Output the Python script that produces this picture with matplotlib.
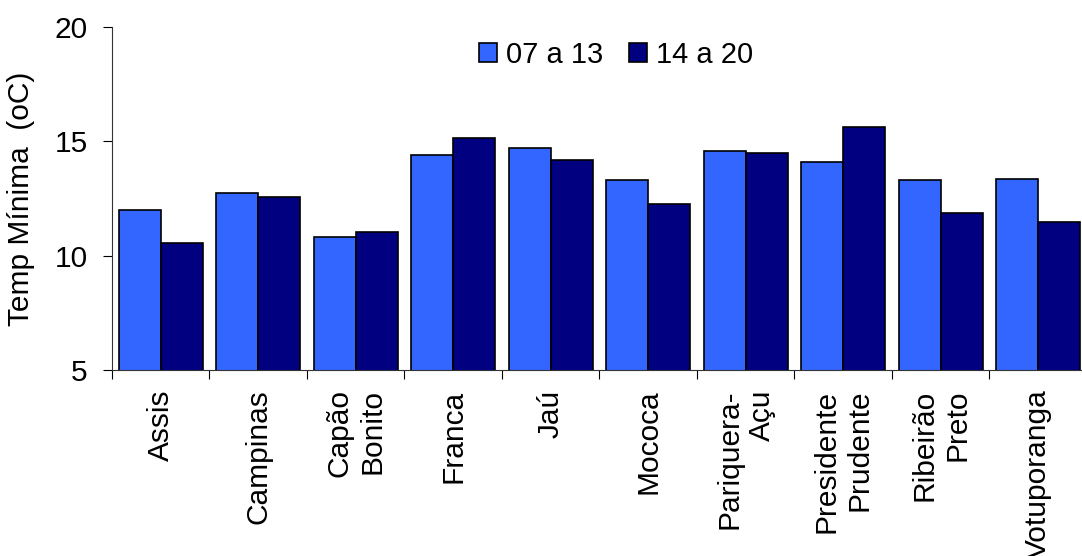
import matplotlib.pyplot as plt
import numpy as np

plt.rcParams['font.family'] = ['Liberation Sans', 'DejaVu Sans']

# Dados
cidades = ['Assis', 'Campinas', 'Capão\nBonito', 'Franca', 'Jaú', 'Mococa',
           'Pariquera-\nAçu', 'Presidente\nPrudente', 'Ribeirão\nPreto', 'Votuporanga']
sem1 = [12.0, 12.73, 10.82, 14.42, 14.72, 13.29, 14.58, 14.08, 13.29, 13.37]
sem2 = [10.57, 12.58, 11.05, 15.13, 14.18, 12.26, 14.50, 15.64, 11.85, 11.46]

fig = plt.figure(figsize=(10.82, 5.56), dpi=100)
ax = fig.add_axes([0.1035, 0.3345, 0.901, 0.617])

x = np.arange(len(cidades))
w = 0.43
ax.bar(x - w/2, sem1, w, color='#3366FF', edgecolor='black', linewidth=1.2,
       label='07 a 13')
ax.bar(x + w/2, sem2, w, color='#000080', edgecolor='black', linewidth=1.2,
       label='14 a 20')

ax.set_ylim(5, 20)
ax.set_xlim(-0.5, len(cidades) - 0.5)
ax.set_yticks([5, 10, 15, 20])
ax.set_ylabel('Temp Mínima  (oC)', fontsize=21.5, labelpad=14)

# ticks nas divisões, rótulos no centro
ax.set_xticks(np.arange(len(cidades) + 1) - 0.5)
ax.set_xticklabels([])
ax.set_xticks(x, minor=True)
ax.set_xticklabels(cidades, minor=True, rotation=90, ha='center', va='top',
                   multialignment='right', fontsize=21.5, linespacing=1.22)
ax.tick_params(axis='x', which='minor', length=0, pad=14)
ax.tick_params(axis='x', which='major', length=6.5, direction='out')
ax.tick_params(axis='y', labelsize=21.5, length=6.5, direction='out', pad=11)

for s in ['top', 'right']:
    ax.spines[s].set_visible(False)
for s in ['left', 'bottom']:
    ax.spines[s].set_color('#333333')

ax.legend(loc='upper center', bbox_to_anchor=(0.517, 1.035), ncol=2, frameon=False,
          fontsize=21, handlelength=0.62, handleheight=0.62, handletextpad=0.3,
          columnspacing=0.9)

fig.savefig('out.png', dpi=100)
